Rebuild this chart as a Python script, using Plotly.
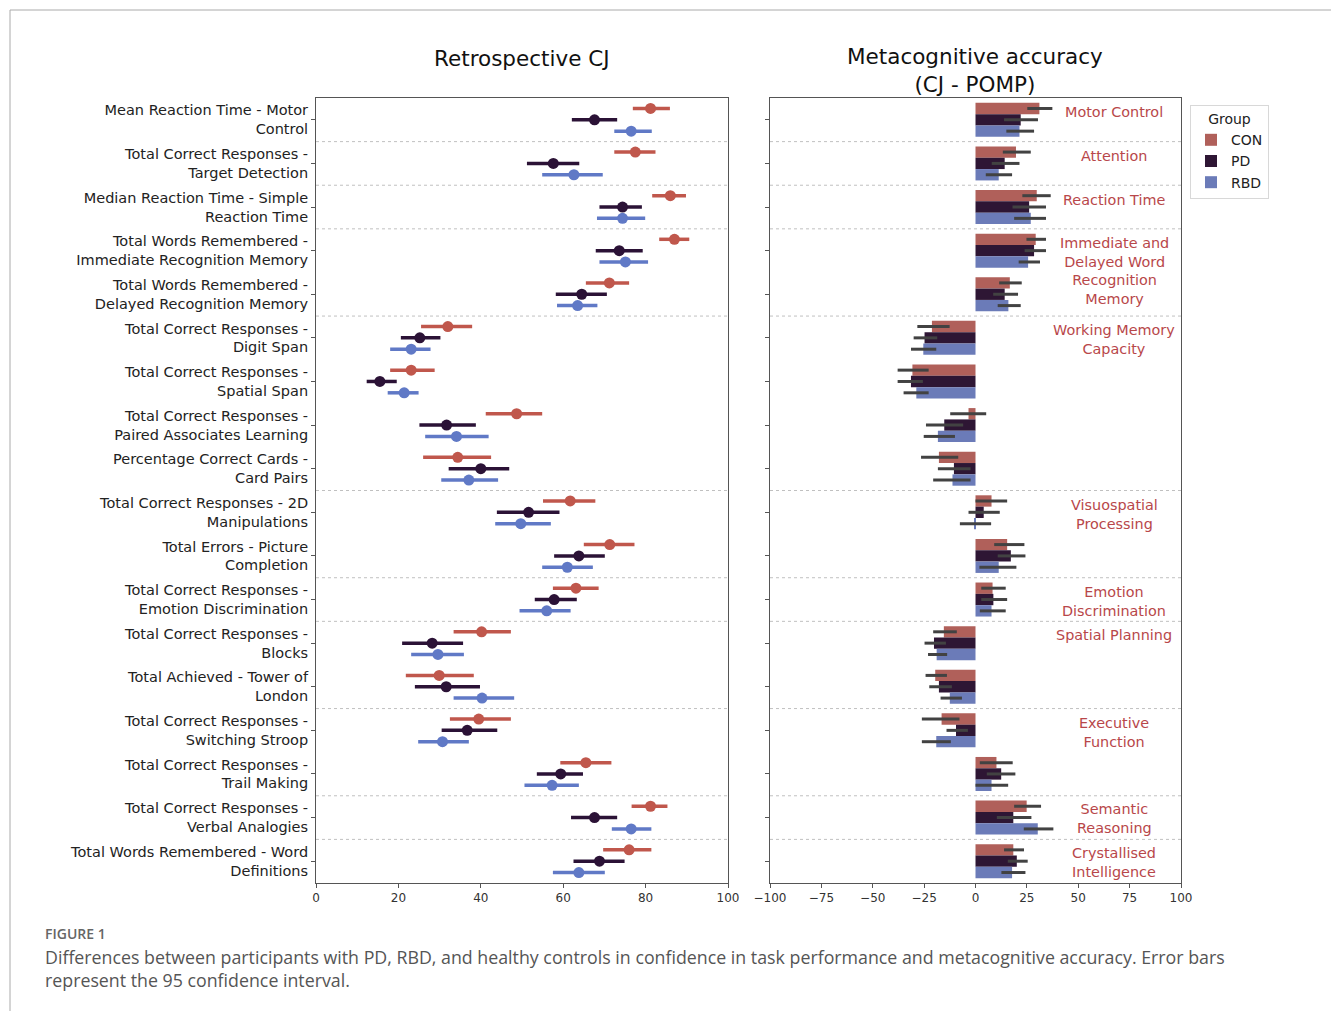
import plotly.graph_objects as go

# ---------------- data ----------------
labels = [
    "Mean Reaction Time - Motor<br>Control",
    "Total Correct Responses -<br>Target Detection",
    "Median Reaction Time - Simple<br>Reaction Time",
    "Total Words Remembered -<br>Immediate Recognition Memory",
    "Total Words Remembered -<br>Delayed Recognition Memory",
    "Total Correct Responses -<br>Digit Span",
    "Total Correct Responses -<br>Spatial Span",
    "Total Correct Responses -<br>Paired Associates Learning",
    "Percentage Correct Cards -<br>Card Pairs",
    "Total Correct Responses - 2D<br>Manipulations",
    "Total Errors - Picture<br>Completion",
    "Total Correct Responses -<br>Emotion Discrimination",
    "Total Correct Responses -<br>Blocks",
    "Total Achieved - Tower of<br>London",
    "Total Correct Responses -<br>Switching Stroop",
    "Total Correct Responses -<br>Trail Making",
    "Total Correct Responses -<br>Verbal Analogies",
    "Total Words Remembered - Word<br>Definitions",
]
groups = ["CON", "PD", "RBD"]

# Retrospective CJ: mean, CI low, CI high
cj_con = [81.2, 77.5, 86.0, 87.0, 71.2, 32.0, 23.1, 48.7, 34.4, 61.7, 71.3, 63.1, 40.2, 29.9, 39.5, 65.5, 81.2, 76.0]
cj_con_lo = [76.9, 72.4, 81.6, 83.3, 65.5, 25.5, 18.0, 41.2, 26.0, 55.1, 65.0, 57.5, 33.4, 21.8, 32.5, 59.3, 76.6, 69.7]
cj_con_hi = [85.9, 82.4, 89.8, 90.6, 76.0, 37.9, 28.8, 54.9, 42.5, 67.8, 77.3, 68.6, 47.3, 38.3, 47.3, 71.7, 85.3, 81.4]

cj_pd = [67.6, 57.6, 74.4, 73.6, 64.5, 25.2, 15.5, 31.7, 40.0, 51.6, 63.8, 57.8, 28.2, 31.6, 36.7, 59.4, 67.6, 68.8]
cj_pd_lo = [62.1, 51.2, 68.8, 67.9, 58.2, 20.6, 12.3, 25.1, 32.2, 43.9, 57.8, 53.1, 20.9, 24.0, 30.5, 53.6, 61.9, 62.5]
cj_pd_hi = [73.1, 63.9, 79.1, 79.3, 70.6, 30.2, 19.6, 38.8, 46.9, 59.1, 70.1, 63.3, 35.7, 39.8, 44.0, 64.8, 73.1, 74.9]

cj_rbd = [76.5, 62.6, 74.4, 75.1, 63.5, 23.1, 21.4, 34.1, 37.1, 49.7, 61.0, 56.0, 29.6, 40.3, 30.7, 57.3, 76.5, 63.8]
cj_rbd_lo = [72.4, 54.9, 68.2, 68.8, 58.5, 18.0, 17.4, 26.5, 30.4, 43.5, 54.9, 49.4, 23.1, 33.4, 24.8, 50.6, 71.8, 57.5]
cj_rbd_hi = [81.5, 69.6, 79.9, 80.6, 68.3, 27.8, 24.9, 41.9, 44.2, 57.0, 67.2, 61.8, 35.9, 48.1, 37.1, 63.8, 81.4, 70.1]

# Metacognitive accuracy (CJ - POMP): mean, CI low, CI high
ma_con = [31.1, 19.7, 29.8, 29.3, 16.7, -21.2, -30.7, -3.4, -17.8, 7.8, 15.4, 8.3, -15.4, -19.6, -16.5, 10.2, 24.9, 18.4]
ma_con_lo = [25.2, 13.3, 22.8, 24.8, 11.5, -28.3, -37.9, -12.3, -26.5, 0.0, 9.1, 2.8, -20.6, -24.3, -26.1, 2.1, 18.8, 13.9]
ma_con_hi = [37.4, 26.9, 36.6, 34.3, 22.5, -12.6, -22.8, 5.2, -8.4, 15.4, 23.8, 14.7, -9.1, -13.9, -7.8, 18.1, 31.9, 23.6]

ma_pd = [22.0, 14.2, 26.1, 28.5, 14.2, -24.8, -31.4, -15.2, -10.5, 4.0, 17.2, 8.7, -20.2, -17.8, -9.5, 12.5, 18.4, 20.1]
ma_pd_lo = [13.9, 7.9, 18.0, 23.9, 8.6, -30.1, -37.9, -24.1, -18.3, -3.4, 10.8, 2.8, -24.8, -22.5, -14.1, 5.5, 10.4, 15.7]
ma_pd_hi = [30.4, 21.4, 34.3, 34.3, 20.7, -18.6, -25.6, -6.0, -2.4, 11.8, 24.3, 15.4, -14.4, -11.5, -3.7, 19.4, 27.2, 25.4]

ma_rbd = [21.4, 11.3, 26.9, 25.6, 16.0, -25.4, -28.8, -18.3, -11.2, -0.5, 11.3, 7.8, -18.9, -12.5, -19.1, 7.8, 30.3, 17.8]
ma_rbd_lo = [15.0, 5.0, 18.8, 21.0, 10.8, -31.4, -35.0, -25.2, -20.6, -7.6, 1.9, 2.1, -23.1, -17.0, -26.1, 0.0, 23.5, 12.6]
ma_rbd_hi = [28.5, 17.8, 34.3, 31.4, 22.0, -19.1, -22.8, -10.0, -2.4, 7.6, 19.9, 14.7, -13.8, -6.6, -12.0, 15.9, 37.9, 24.3]

# Domain labels: text, row position
domain_names = ["Motor Control", "Attention", "Reaction Time",
                "Immediate and<br>Delayed Word<br>Recognition<br>Memory",
                "Working Memory<br>Capacity", "Visuospatial<br>Processing",
                "Emotion<br>Discrimination", "Spatial Planning",
                "Executive<br>Function", "Semantic<br>Reasoning",
                "Crystallised<br>Intelligence"]
domain_rows = [-0.19, 0.82, 1.83, 3.46, 5.03, 9.05, 11.05, 11.81, 14.06, 16.03, 17.03]
separators = [0.5, 1.5, 2.5, 4.5, 8.5, 10.5, 11.5, 13.5, 15.5, 16.5]

x_ticks_left = [0, 20, 40, 60, 80, 100]
x_ticks_right = [-100, -75, -50, -25, 0, 25, 50, 75, 100]

# ---------------- style ----------------
dot_colors = {"CON": "#c0574c", "PD": "#2b1236", "RBD": "#6079c6"}
bar_colors = {"CON": "#b0605a", "PD": "#2e1634", "RBD": "#6b7bb8"}
offsets = {"CON": -0.26, "PD": 0.0, "RBD": 0.26}
FONT = "DejaVu Sans"

W, H = 1331, 1011
xl = [316 / W, 728 / W]
xr = [770 / W, 1181 / W]
yd = [1 - 883 / H, 1 - 98 / H]

fig = go.Figure()
n = len(labels)
rows = list(range(n))

cj = {"CON": (cj_con, cj_con_lo, cj_con_hi), "PD": (cj_pd, cj_pd_lo, cj_pd_hi),
      "RBD": (cj_rbd, cj_rbd_lo, cj_rbd_hi)}
ma = {"CON": (ma_con, ma_con_lo, ma_con_hi), "PD": (ma_pd, ma_pd_lo, ma_pd_hi),
      "RBD": (ma_rbd, ma_rbd_lo, ma_rbd_hi)}

for g in groups:
    m, lo, hi = cj[g]
    fig.add_trace(go.Scatter(
        x=m, y=[r + offsets[g] for r in rows], mode="markers",
        marker=dict(color=dot_colors[g], size=11),
        error_x=dict(type="data", symmetric=False,
                     array=[h - v for h, v in zip(hi, m)],
                     arrayminus=[v - l for l, v in zip(lo, m)],
                     color=dot_colors[g], thickness=3.5, width=0),
        xaxis="x", yaxis="y", showlegend=False, cliponaxis=False))

for g in groups:
    m, lo, hi = ma[g]
    fig.add_trace(go.Bar(
        x=m, y=[r + offsets[g] for r in rows], orientation="h", width=0.26,
        marker=dict(color=bar_colors[g], line=dict(width=0)),
        error_x=dict(type="data", symmetric=False,
                     array=[h - v for h, v in zip(hi, m)],
                     arrayminus=[v - l for l, v in zip(lo, m)],
                     color="#424242", thickness=3, width=0),
        name=g, xaxis="x2", yaxis="y2", showlegend=True))

axis_common = dict(showline=True, linecolor="#555555", linewidth=1, mirror=True,
                   showgrid=False, zeroline=False, ticks="outside", ticklen=4,
                   tickcolor="#555555", automargin=False,
                   tickfont=dict(family=FONT, size=12, color="#333333"))

fig.update_layout(
    width=W, height=H, margin=dict(l=0, r=0, t=0, b=0, autoexpand=False),
    paper_bgcolor="white", plot_bgcolor="white",
    barmode="overlay",
    font=dict(family=FONT, color="#222222"),
    xaxis=dict(domain=xl, range=[0, 100], tickvals=x_ticks_left, anchor="y", **axis_common),
    yaxis=dict(domain=yd, range=[n - 0.5, -0.5], tickvals=rows, ticktext=labels,
               anchor="x", **{**axis_common, "tickfont": dict(family=FONT, size=14.5, color="#222222")}),
    xaxis2=dict(domain=xr, range=[-100, 100], tickvals=x_ticks_right, anchor="y2", **axis_common),
    yaxis2=dict(domain=yd, range=[n - 0.5, -0.5], tickvals=rows, showticklabels=False,
                anchor="x2", **axis_common),
    legend=dict(title=dict(text="Group", side="top center", font=dict(family=FONT, size=14, color="#222")),
                x=1190 / W, y=1 - 105 / H, xanchor="left", yanchor="top",
                bgcolor="white", bordercolor="#d8d8d8", borderwidth=1,
                font=dict(family=FONT, size=14, color="#222222"), itemwidth=30,
                tracegroupgap=4),
)

# separator lines across both panels
for s in separators:
    for xa, ya in (("x", "y"), ("x2", "y2")):
        fig.add_shape(type="line", xref=f"{xa} domain", yref=ya, x0=0, x1=1, y0=s, y1=s,
                      line=dict(color="#c0c0c0", width=1, dash="dot"), layer="below")

# domain annotations
for t, r in zip(domain_names, domain_rows):
    fig.add_annotation(x=67.5, y=r, xref="x2", yref="y2", text=t, showarrow=False,
                       xanchor="center", yanchor="middle",
                       font=dict(family=FONT, size=14.4, color="#b8474a"), align="center")

# panel titles
fig.add_annotation(x=522 / W, y=1 - 58 / H, xref="paper", yref="paper", text="Retrospective CJ",
                   showarrow=False, xanchor="center", yanchor="middle",
                   font=dict(family=FONT, size=21.5, color="#111111"))
fig.add_annotation(x=975 / W, y=1 - 70.5 / H, xref="paper", yref="paper",
                   text="Metacognitive accuracy<br>(CJ - POMP)", showarrow=False,
                   xanchor="center", yanchor="middle",
                   font=dict(family=FONT, size=21.5, color="#111111"), align="center")

# caption
fig.add_annotation(x=43 / W, y=1 - 933 / H, xref="paper", yref="paper", text="FIGURE 1",
                   showarrow=False, xanchor="left", yanchor="middle",
                   font=dict(family="Open Sans", size=14, color="#666666", weight=600))
fig.add_annotation(x=43 / W, y=1 - 968 / H, xref="paper", yref="paper",
                   text="Differences between participants with PD, RBD, and healthy controls in confidence in task performance and metacognitive accuracy. Error bars<br>represent the 95 confidence interval.",
                   showarrow=False, xanchor="left", yanchor="middle", align="left",
                   font=dict(family="Open Sans", size=17.8, color="#555555"))

# page frame lines
fig.add_shape(type="line", xref="paper", yref="paper", x0=10 / W, x1=1, y0=1 - 10 / H, y1=1 - 10 / H,
              line=dict(color="#aaaaaa", width=1))
fig.add_shape(type="line", xref="paper", yref="paper", x0=10 / W, x1=10 / W, y0=0, y1=1 - 10 / H,
              line=dict(color="#aaaaaa", width=1))

fig.write_html("out.html", config={"displayModeBar": False},
               post_script="document.body.style.margin='0';")
